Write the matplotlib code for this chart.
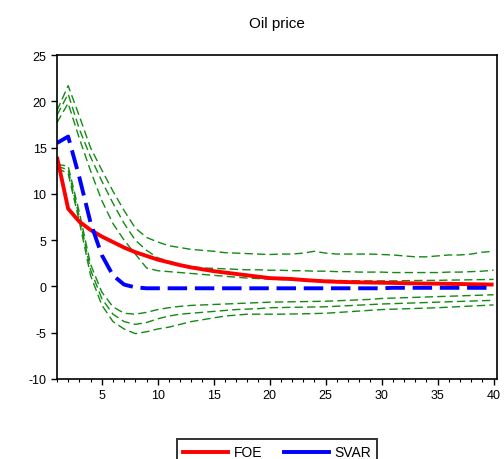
import numpy as np
import matplotlib
matplotlib.use("Agg")
import matplotlib.pyplot as plt
from matplotlib.lines import Line2D
from matplotlib.ticker import MultipleLocator

plt.rcParams["font.family"] = ["Liberation Sans", "DejaVu Sans"]
plt.rcParams["axes.unicode_minus"] = False

# horizon 1..40
periods = np.arange(1, 41)

foe = [14.0, 8.4, 7.0, 6.1, 5.4, 4.8, 4.2, 3.7, 3.3, 2.9,
       2.6, 2.3, 2.05, 1.85, 1.65, 1.5, 1.35, 1.2, 1.05, 0.9,
       0.85, 0.8, 0.7, 0.62, 0.55, 0.5, 0.47, 0.44, 0.42, 0.4,
       0.38, 0.35, 0.33, 0.31, 0.3, 0.28, 0.26, 0.24, 0.22, 0.2]

svar = [15.5, 16.2, 11.8, 6.9, 3.4, 1.2, 0.2, -0.1, -0.2, -0.2,
        -0.2, -0.2, -0.2, -0.2, -0.2, -0.2, -0.2, -0.2, -0.2, -0.2,
        -0.2, -0.2, -0.2, -0.2, -0.2, -0.2, -0.2, -0.2, -0.2, -0.2,
        -0.15, -0.15, -0.15, -0.15, -0.15, -0.15, -0.15, -0.15, -0.15, -0.15]

# confidence bands (green)
upper1 = [19.0, 21.7, 18.4, 15.0, 12.6, 10.3, 8.2, 6.3, 5.3, 4.8,
          4.4, 4.2, 4.0, 3.9, 3.8, 3.65, 3.6, 3.55, 3.5, 3.45,
          3.5, 3.5, 3.6, 3.8, 3.6, 3.5, 3.5, 3.5, 3.5, 3.45,
          3.4, 3.3, 3.2, 3.2, 3.3, 3.4, 3.4, 3.5, 3.7, 3.8]
upper2 = [18.5, 20.8, 17.0, 14.0, 11.4, 9.0, 6.8, 5.0, 3.9, 3.1,
          2.7, 2.35, 2.15, 2.0, 1.95, 1.9, 1.85, 1.8, 1.8, 1.75,
          1.75, 1.7, 1.7, 1.65, 1.65, 1.6, 1.6, 1.55, 1.55, 1.55,
          1.5, 1.5, 1.5, 1.5, 1.5, 1.55, 1.55, 1.6, 1.65, 1.75]
upper3 = [17.7, 19.8, 16.0, 12.5, 9.3, 6.8, 5.0, 3.5, 2.0, 1.7,
          1.6, 1.5, 1.4, 1.3, 1.2, 1.1, 1.0, 0.9, 0.85, 0.8,
          0.75, 0.72, 0.7, 0.68, 0.66, 0.64, 0.62, 0.6, 0.6, 0.6,
          0.6, 0.62, 0.64, 0.65, 0.66, 0.68, 0.7, 0.72, 0.74, 0.76]
lower1 = [13.2, 13.0, 8.0, 2.4, -0.6, -2.2, -2.9, -3.0, -2.8, -2.5,
          -2.3, -2.15, -2.05, -2.0, -1.95, -1.9, -1.85, -1.8, -1.75, -1.7,
          -1.68, -1.66, -1.64, -1.62, -1.6, -1.55, -1.5, -1.45, -1.4, -1.3,
          -1.26, -1.22, -1.18, -1.14, -1.1, -1.06, -1.02, -0.98, -0.94, -0.9]
lower2 = [13.0, 12.6, 7.5, 1.8, -1.3, -3.0, -3.8, -4.1, -3.9, -3.5,
          -3.2, -3.0, -2.9, -2.8, -2.7, -2.6, -2.5, -2.45, -2.4, -2.3,
          -2.28, -2.26, -2.24, -2.22, -2.2, -2.14, -2.08, -2.02, -1.96, -1.9,
          -1.86, -1.82, -1.78, -1.74, -1.7, -1.66, -1.62, -1.58, -1.54, -1.5]
lower3 = [12.8, 12.2, 7.0, 1.2, -2.0, -3.8, -4.6, -5.1, -4.9, -4.6,
          -4.4, -4.1, -3.8, -3.6, -3.4, -3.2, -3.1, -3.0, -3.0, -3.0,
          -3.0, -2.98, -2.96, -2.93, -2.9, -2.82, -2.74, -2.66, -2.58, -2.5,
          -2.46, -2.42, -2.38, -2.34, -2.3, -2.24, -2.18, -2.12, -2.06, -2.0]

fig = plt.figure(figsize=(5.04, 4.6), dpi=100)
ax = fig.add_axes([0.113, 0.174, 0.873, 0.704])

green = "#138a13"
for band in [upper1, upper2, upper3, lower1, lower2, lower3]:
    ax.plot(periods, band, color=green, lw=1.0, linestyle=(0, (6, 3)))

ax.plot(periods, foe, color="#ff0000", lw=2.8, solid_capstyle="butt")
ax.plot(periods, svar, color="#0000ff", lw=2.8, linestyle=(0, (5, 2)))

ax.set_xlim(1, 40.3)
ax.set_ylim(-10, 25)
ax.set_yticks(np.arange(-10, 26, 5))
ax.xaxis.set_major_locator(MultipleLocator(5))
ax.xaxis.set_minor_locator(MultipleLocator(1))
ax.set_xticks(np.arange(5, 41, 5))
ax.tick_params(axis="both", which="major", length=4, width=1, labelsize=9,
               top=False, right=False)
ax.tick_params(axis="x", which="minor", length=2.5, width=0.8, top=False)
for s in ax.spines.values():
    s.set_linewidth(1.2)

ax.set_title("Oil price", fontsize=11, pad=20)

handles = [Line2D([], [], color="#ff0000", lw=2.8),
           Line2D([], [], color="#0000ff", lw=2.8)]
leg = fig.legend(handles, ["FOE", "SVAR"], loc="upper center",
                 bbox_to_anchor=(0.55, 0.043), ncol=2, frameon=True,
                 fancybox=False, edgecolor="black", fontsize=10,
                 handlelength=3.2, columnspacing=1.6, borderpad=0.45,
                 handletextpad=0.4, borderaxespad=0)
leg.get_frame().set_linewidth(1.4)

fig.savefig("out.png", dpi=100)
